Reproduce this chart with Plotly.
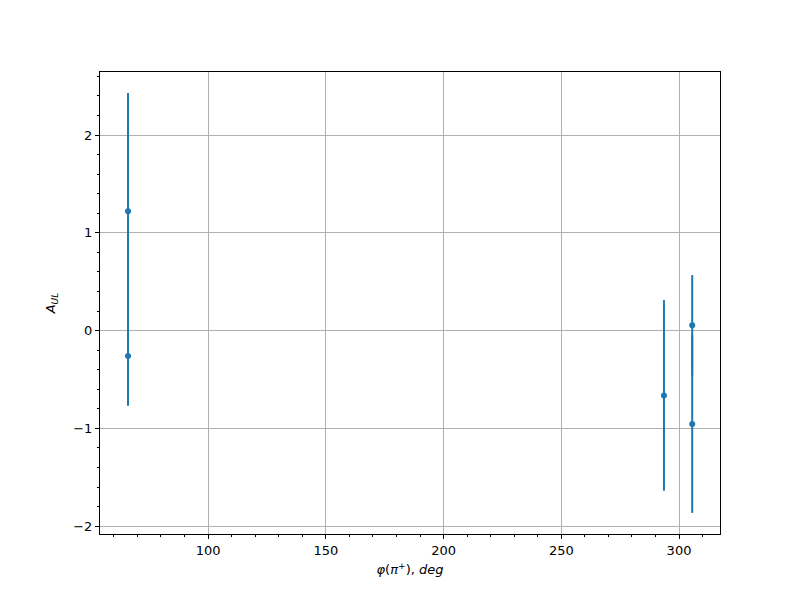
import plotly.graph_objects as go

phi = [66.0, 66.0, 293.6, 305.6, 305.6]
a_ul = [1.22, -0.26, -0.663, 0.054, -0.955]
err = [1.21, 0.508, 0.975, 0.514, 0.909]

x_ticks = [100, 150, 200, 250, 300]
y_ticks = [-2, -1, 0, 1, 2]

color = "#1f77b4"

fig = go.Figure()
fig.add_trace(go.Scatter(
    x=phi, y=a_ul, mode="markers",
    marker=dict(color=color, size=6),
    error_y=dict(type="data", array=err, visible=True, color=color,
                 thickness=2, width=0),
    showlegend=False,
))

axis_common = dict(
    showline=True, linecolor="black", linewidth=1, mirror=True,
    ticks="outside", ticklen=4, tickwidth=1, tickcolor="black",
    showgrid=True, gridcolor="#b0b0b0", gridwidth=1,
    zeroline=False, automargin=False,
    tickfont=dict(family="DejaVu Sans", size=13, color="black"),
)

fig.update_xaxes(
    range=[54.1, 317.4], tickvals=x_ticks,
    minor=dict(ticks="outside", ticklen=2, tickwidth=1, tickcolor="black",
               dtick=10, tick0=0, showgrid=False),
    title=dict(text="<i>φ</i>(<i>π</i><sup>+</sup>), <i>deg</i>",
               font=dict(family="DejaVu Sans", size=13, color="black"),
               standoff=8),
    **axis_common,
)
fig.update_yaxes(
    range=[-2.08, 2.645], tickvals=y_ticks,
    minor=dict(ticks="outside", ticklen=2, tickwidth=1, tickcolor="black",
               dtick=0.2, tick0=0, showgrid=False),
    title=dict(text="<i>A</i><sub><i>UL</i></sub>",
               font=dict(family="DejaVu Sans", size=13, color="black"),
               standoff=14),
    **axis_common,
)

fig.update_layout(
    width=800, height=600,
    margin=dict(l=92, r=88, t=64, b=74),
    plot_bgcolor="white", paper_bgcolor="white",
    font=dict(family="DejaVu Sans", size=13, color="black"),
)

fig.write_html("out.html")
